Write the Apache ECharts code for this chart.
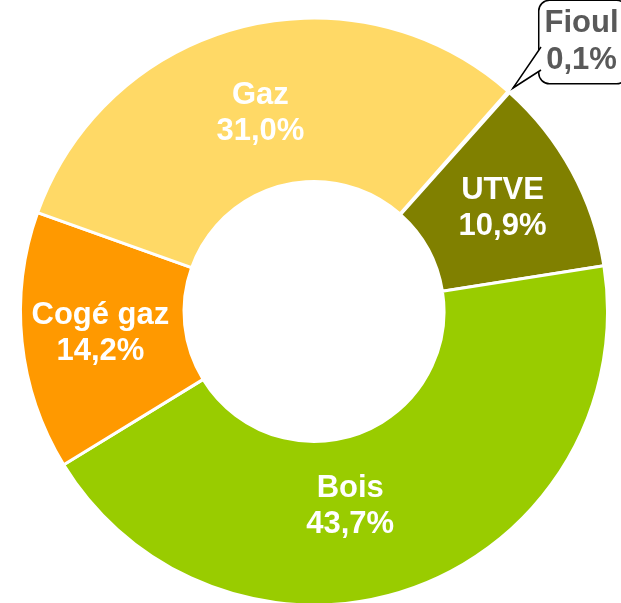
<!DOCTYPE html>
<html>
<head>
<meta charset="utf-8">
<script src="https://cdn.jsdelivr.net/npm/echarts@6/dist/echarts.min.js"></script>
<style>
  html, body { margin: 0; padding: 0; background: #fff; }
  #chart { width: 621px; height: 603px; }
</style>
</head>
<body>
<div id="chart"></div>
<script>
// Data
const categories = ['Fioul', 'UTVE', 'Bois', 'Cogé gaz', 'Gaz'];
const shares = [0.1, 10.9, 43.7, 14.2, 31.0];
const colors = ['#7f7f7f', '#808000', '#99CC00', '#FF9900', '#FFD966'];

const fmt = v => v.toFixed(1).replace('.', ',') + '%';

const chart = echarts.init(document.getElementById('chart'));

const seriesData = categories.map((name, i) => {
    const item = { name: name, value: shares[i], itemStyle: { color: colors[i] } };
    if (name === 'Fioul') {
        // callout bubble
        item.label = {
            position: 'outside',
            color: '#595959',
            backgroundColor: '#fff',
            borderColor: '#000',
            borderWidth: 1.5,
            borderRadius: 10,
            padding: [4, 8, 4, 5],
            lineHeight: 37
        };
        item.labelLine = { show: true, length: 4, length2: 4, lineStyle: { color: '#000', width: 1.5 } };
    }
    return item;
});

chart.setOption({
    animation: false,
    series: [{
        type: 'pie',
        center: [314, 311.5],
        radius: [130, 293.5],
        startAngle: 48.6,
        clockwise: true,
        avoidLabelOverlap: false,
        itemStyle: { borderColor: '#fff', borderWidth: 3 },
        label: {
            show: true,
            position: 'inside',
            formatter: p => p.name + '\n' + fmt(p.value),
            color: '#fff',
            fontFamily: 'Liberation Sans, Arial, sans-serif',
            fontWeight: 'bold',
            fontSize: 31,
            lineHeight: 36
        },
        labelLine: { show: false },
        labelLayout: p => {
            if (p.dataIndex === 0) return { x: 583, y: 42, align: 'center', verticalAlign: 'middle',
                labelLinePoints: [[513, 88], [541, 56], [541, 56]] };
            if (p.dataIndex === 2) return { dx: -38, dy: -7 };
            if (p.dataIndex === 4) return { dy: 10 };
            return {};
        },
        data: seriesData
    }],
    graphic: [
        // bubble tail
        { type: 'polygon', z: 100, shape: { points: [[513, 88], [541, 47], [541, 70]] }, style: { fill: '#fff' } },
        { type: 'polyline', z: 101, shape: { points: [[541, 47], [513, 88], [541, 70]] }, style: { stroke: '#000', lineWidth: 1.5, fill: null } }
    ]
});
</script>
</body>
</html>
